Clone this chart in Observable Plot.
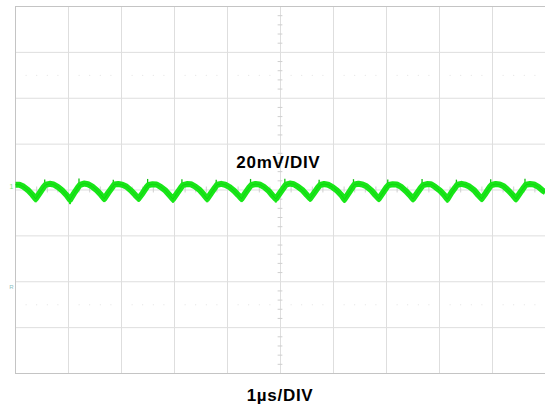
<!DOCTYPE html>
<html>
<head>
<meta charset="utf-8">
<script src="https://cdn.jsdelivr.net/npm/d3@7"></script>
<script src="https://cdn.jsdelivr.net/npm/@observablehq/plot@0.6"></script>
<style>
  html, body { margin: 0; padding: 0; background: #fff; }
  #chart svg text { letter-spacing: 0.7px; }
</style>
</head>
<body>
<div id="chart"></div>
<script>
// Time axis in ns (1 µs/DIV), voltage axis in mV (20 mV/DIV)
const xDomain = [0, 10000];
const yDomain = [-80, 80];
const majorX = [0, 1000, 2000, 3000, 4000, 5000, 6000, 7000, 8000, 9000, 10000];
const majorY = [-80, -60, -40, -20, 0, 20, 40, 60, 80];
const minorX = [200, 400, 600, 800, 1200, 1400, 1600, 1800, 2200, 2400, 2600, 2800, 3200, 3400, 3600, 3800, 4200, 4400, 4600, 4800, 5200, 5400, 5600, 5800, 6200, 6400, 6600, 6800, 7200, 7400, 7600, 7800, 8200, 8400, 8600, 8800, 9200, 9400, 9600, 9800];
const minorY = [-76, -72, -68, -64, -56, -52, -48, -44, -36, -32, -28, -24, -16, -12, -8, -4, 4, 8, 12, 16, 24, 28, 32, 36, 44, 48, 52, 56, 64, 68, 72, 76];
const dotRows = [50, -50];

const scaleLabel = "20mV/DIV";
const timeLabel = "1µs/DIV";

const traceTime = [
  0, 74, 149, 243, 319,
  381, 456, 532, 570, 645, 721, 796, 890, 966,
  1028, 1103, 1179, 1217, 1292, 1368, 1443, 1537, 1613,
  1675, 1750, 1826, 1864, 1939, 2015, 2090, 2184, 2260,
  2323, 2398, 2474, 2512, 2587, 2663, 2738, 2832, 2908,
  2970, 3045, 3121, 3159, 3234, 3310, 3385, 3479, 3555,
  3617, 3692, 3768, 3806, 3881, 3957, 4032, 4126, 4202,
  4265, 4340, 4416, 4454, 4529, 4605, 4680, 4774, 4850,
  4912, 4987, 5063, 5101, 5176, 5252, 5327, 5421, 5497,
  5559, 5634, 5710, 5748, 5823, 5899, 5974, 6068, 6144,
  6207, 6282, 6358, 6396, 6471, 6547, 6622, 6716, 6792,
  6854, 6929, 7005, 7043, 7118, 7194, 7269, 7363, 7439,
  7501, 7576, 7652, 7690, 7765, 7841, 7916, 8010, 8086,
  8149, 8224, 8300, 8338, 8413, 8489, 8564, 8658, 8734,
  8796, 8871, 8947, 8985, 9060, 9136, 9211, 9305, 9381,
  9443, 9518, 9594, 9632, 9707, 9783, 9858, 9952, 10000
];
const traceMv = [
  2.3, 2.3, 1.5, -0.2, -2.1,
  -3.9, -1.3, 1.3, 2.3, 2.7, 2.4, 1.4, -0.4, -2.3,
  -4.3, -1.5, 1.1, 2.2, 2.8, 2.5, 1.6, -0.2, -2.1,
  -3.8, -1.2, 1.2, 2.4, 2.6, 2.3, 1.5, -0.3, -2.2,
  -3.7, -1.4, 1.3, 2.2, 2.5, 2.4, 1.4, -0.3, -2.3,
  -4.0, -1.5, 1.0, 2.1, 2.6, 2.5, 1.6, -0.1, -2.1,
  -3.9, -1.3, 1.2, 2.3, 2.7, 2.3, 1.4, -0.4, -2.2,
  -3.8, -1.2, 1.3, 2.2, 2.6, 2.4, 1.5, -0.3, -2.4,
  -3.9, -1.4, 1.1, 2.3, 2.8, 2.5, 1.5, -0.2, -2.2,
  -3.7, -1.3, 1.2, 2.2, 2.6, 2.3, 1.4, -0.3, -2.1,
  -4.1, -1.5, 1.2, 2.4, 2.7, 2.4, 1.6, -0.2, -2.3,
  -3.8, -1.3, 1.3, 2.2, 2.5, 2.4, 1.5, -0.4, -2.2,
  -3.9, -1.4, 1.1, 2.1, 2.6, 2.5, 1.4, -0.3, -2.1,
  -4.0, -1.2, 1.2, 2.3, 2.7, 2.3, 1.5, -0.2, -2.3,
  -3.8, -1.4, 1.3, 2.2, 2.6, 2.4, 1.6, -0.3, -2.2,
  -3.9, -1.3, 1.2, 2.3, 2.6, 2.4, 1.5, -0.3, -1.0
];
const dipTime = [381, 1028, 1675, 2323, 2970, 3617, 4265, 4912, 5559, 6207, 6854, 7501, 8149, 8796, 9443];
const dipLow  = [-5.6, -6.4, -5.5, -5.4, -5.8, -5.6, -5.5, -5.7, -5.3, -5.9, -5.5, -5.6, -5.8, -5.5, -5.6];
const spikeTime = [551, 1198, 1845, 2493, 3140, 3787, 4435, 5082, 5729, 6377, 7024, 7671, 8319, 8966, 9613];
const spikeTop  = [4.4, 4.8, 4.3, 4.6, 4.5, 4.2, 4.6, 4.7, 4.3, 4.5, 4.4, 4.6, 4.3, 4.5, 4.7];

const trace = traceTime.map((t, i) => ({t, v: traceMv[i]}));
const dips = dipTime.map((t, i) => ({t, lo: dipLow[i]}));
const spikes = spikeTime.map((t, i) => ({t, hi: spikeTop[i]}));
const dots = dotRows.flatMap(v => minorX.map(t => ({t, v})));
const innerX = majorX.filter(t => t !== 0 && t !== 10000);
const innerY = majorY.filter(v => v !== 80 && v !== -80);

const green = "#18e618";

const chart = Plot.plot({
  width: 545,
  height: 411,
  marginLeft: 15,
  marginRight: 0,
  marginTop: 6,
  marginBottom: 38,
  x: {domain: xDomain, axis: null},
  y: {domain: yDomain, axis: null},
  style: {background: "#fff", fontFamily: "'Liberation Sans', Arial, sans-serif", overflow: "visible"},
  marks: [
    Plot.ruleX(innerX, {y1: -80, y2: 80, stroke: "#dedede", strokeWidth: 1}),
    Plot.ruleY(innerY, {x1: 0, x2: 10000, stroke: "#dedede", strokeWidth: 1}),
    Plot.dot(dots, {x: "t", y: "v", r: 0.55, fill: "#dcdcdc", stroke: null}),
    Plot.ruleY(minorY, {x1: 4955, x2: 5045, stroke: "#cfcfcf", strokeWidth: 1}),
    Plot.ruleX(minorX, {y1: -1.3, y2: 1.3, stroke: "#cfcfcf", strokeWidth: 1}),
    Plot.ruleX([0], {y1: -80, y2: 80, stroke: "#c4c4c4", strokeWidth: 1}),
    Plot.ruleY([80, -80], {x1: 0, x2: 10000, stroke: "#c4c4c4", strokeWidth: 1}),
    Plot.ruleX(dips, {x: "t", y1: -3.8, y2: "lo", stroke: green, strokeWidth: 2}),
    Plot.ruleX(spikes, {x: "t", y1: 2, y2: "hi", stroke: "#12c012", strokeWidth: 1.3}),
    Plot.line(trace, {x: "t", y: "v", stroke: green, strokeWidth: 6, strokeLinejoin: "round", strokeLinecap: "butt"}),
    Plot.line(trace, {x: "t", y: "v", stroke: "#0fc40f", strokeWidth: 1, strokeOpacity: 0.6}),
    Plot.text([scaleLabel], {x: 4960, y: 9.7, text: d => d, fontSize: 17, fontWeight: "bold", fill: "#000", textAnchor: "middle", lineAnchor: "bottom"}),
    Plot.text([timeLabel], {x: 4991, y: -92.1, text: d => d, fontSize: 17, fontWeight: "bold", fill: "#000", textAnchor: "middle", lineAnchor: "bottom"}),
    Plot.text(["1"], {x: -70, y: 1.2, text: d => d, fontSize: 7, fill: "#7ddf7d", textAnchor: "middle"}),
    Plot.text(["R"], {x: -70, y: -42.3, text: d => d, fontSize: 6, fill: "#8fbfbf", textAnchor: "middle"})
  ]
});
document.getElementById("chart").appendChild(chart);
</script>
</body>
</html>
